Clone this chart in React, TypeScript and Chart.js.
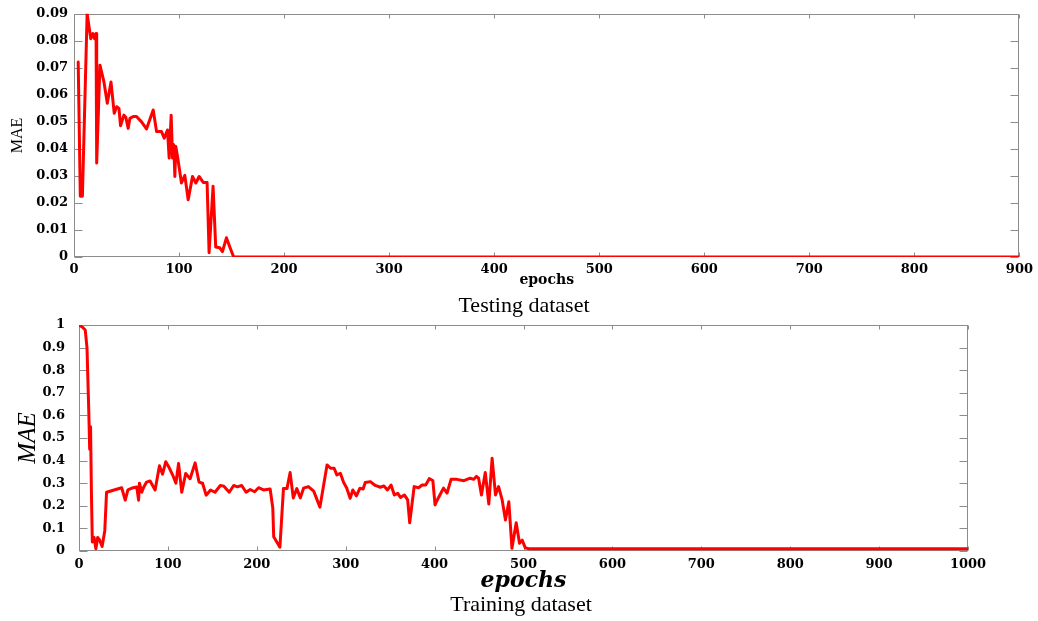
import React, { useEffect, useRef } from 'react';
import { Chart, registerables } from 'chart.js';

Chart.register(...registerables);

// ---- Testing dataset (top panel) ----
const testEpochs = [4, 6, 8, 12.5, 16, 18, 19.5, 21, 21.6, 24.7, 28.5, 31.7, 35.2, 38.3, 40.6, 42.8, 44.3, 47.5, 49.4, 51.6, 53.2, 56.4, 59.5, 64.3, 69, 75.4, 78.6, 83.3, 85.9, 89, 90.6, 92.5, 93.8, 95, 96, 96.9, 98.8, 102.3, 105.5, 108.7, 112.8, 116, 119.1, 123, 126.7, 128.6, 132.4, 134.9, 138.8, 141.3, 145.1, 148.3, 152, 900];
const testMAE = [0.0722, 0.0225, 0.0225, 0.09, 0.0808, 0.0827, 0.0808, 0.0827, 0.0348, 0.071, 0.0648, 0.0569, 0.0648, 0.0532, 0.0556, 0.055, 0.0486, 0.0525, 0.0516, 0.0476, 0.0513, 0.052, 0.052, 0.05, 0.0474, 0.0544, 0.0464, 0.0464, 0.044, 0.047, 0.0366, 0.0525, 0.0366, 0.0415, 0.0298, 0.0409, 0.0366, 0.0274, 0.0302, 0.0212, 0.0298, 0.0274, 0.0298, 0.0276, 0.0276, 0.0016, 0.0262, 0.0037, 0.0034, 0.002, 0.0071, 0.0037, 0, 0];
const testXMax = 900;
const testXStep = 100;
const testYMax = 0.09;
const testYStep = 0.01;

// ---- Training dataset (bottom panel) ----
const trainEpochs = [0, 4, 7, 9, 11, 12, 13, 14, 15, 17, 19, 21, 23, 26, 29, 31, 48, 52, 55, 61, 65, 67, 68, 70.6, 72.5, 76, 80, 85.6, 90.5, 94, 97.6, 101, 105.5, 109, 112, 115.6, 120, 125, 130.6, 135, 139, 143, 148, 153, 159, 163, 169, 174, 178, 183, 188, 192.6, 197.5, 202, 207.6, 215, 218, 219, 226, 230, 234, 237.5, 241, 245, 249, 252.6, 258, 264, 271, 279, 283, 287, 290, 294, 297.7, 301, 305, 308, 312, 316, 319.6, 322, 327.7, 333.3, 339, 343, 347, 351, 354.7, 358.6, 361.6, 366, 369.7, 372, 377, 382, 386, 390, 394, 398, 400.5, 403, 410, 414, 418.5, 425, 433, 440, 444, 447, 449.5, 452.7, 457, 461, 464.7, 468.5, 472, 476, 479.7, 483.5, 487, 491.8, 495.5, 498.5, 502, 506, 1000];
const trainMAE = [1.0, 0.99, 0.978, 0.9, 0.62, 0.45, 0.55, 0.25, 0.04, 0.06, 0.01, 0.06, 0.05, 0.02, 0.09, 0.26, 0.28, 0.225, 0.27, 0.28, 0.283, 0.225, 0.3, 0.26, 0.28, 0.305, 0.31, 0.27, 0.377, 0.34, 0.395, 0.372, 0.335, 0.3, 0.387, 0.26, 0.343, 0.32, 0.39, 0.305, 0.3, 0.247, 0.27, 0.26, 0.29, 0.287, 0.26, 0.29, 0.284, 0.29, 0.26, 0.272, 0.262, 0.28, 0.27, 0.274, 0.19, 0.063, 0.017, 0.277, 0.277, 0.347, 0.235, 0.276, 0.235, 0.278, 0.285, 0.265, 0.194, 0.381, 0.366, 0.366, 0.337, 0.344, 0.303, 0.28, 0.233, 0.27, 0.244, 0.278, 0.274, 0.303, 0.307, 0.29, 0.282, 0.288, 0.27, 0.292, 0.248, 0.255, 0.237, 0.248, 0.226, 0.125, 0.285, 0.28, 0.292, 0.292, 0.32, 0.312, 0.204, 0.226, 0.278, 0.256, 0.317, 0.317, 0.311, 0.322, 0.317, 0.33, 0.322, 0.248, 0.347, 0.208, 0.41, 0.248, 0.285, 0.226, 0.137, 0.218, 0.012, 0.125, 0.034, 0.048, 0.014, 0.01, 0.01];
const trainXMax = 1000;
const trainXStep = 100;
const trainYMax = 1;
const trainYStep = 0.1;

const framePlugin = {
  id: 'frameTicks',
  beforeDatasetsDraw(chart: any) {
    const { ctx, chartArea: a, scales } = chart;
    const xs = scales.x;
    const ys = scales.y;
    ctx.save();
    ctx.strokeStyle = '#8c8c8c';
    ctx.lineWidth = 1;
    const L = Math.round(a.left) + 0.5;
    const R = Math.round(a.right) - 0.5;
    const T = Math.round(a.top) + 0.5;
    const B = Math.round(a.bottom) - 0.5;
    ctx.strokeRect(L, T, R - L, B - T);
    ctx.beginPath();
    xs.ticks.forEach((t: any) => {
      const px = Math.round(xs.getPixelForValue(t.value)) + 0.5;
      ctx.moveTo(px, B);
      ctx.lineTo(px, B - 4);
      ctx.moveTo(px, T);
      ctx.lineTo(px, T + 4);
    });
    ys.ticks.forEach((t: any) => {
      const py = Math.round(ys.getPixelForValue(t.value)) + 0.5;
      ctx.moveTo(L, py);
      ctx.lineTo(L + 8, py);
      ctx.moveTo(R, py);
      ctx.lineTo(R - 8, py);
    });
    ctx.stroke();
    ctx.restore();
  },
};

const tickFont = { family: 'DejaVu Serif', weight: 'bold' as const, size: 13 };

type PlotProps = {
  top: number;
  height: number;
  epochs: number[];
  values: number[];
  xMax: number;
  xStep: number;
  yMax: number;
  yStep: number;
  yDecimals: number;
  padTop: number;
  padRight: number;
  yWidth: number;
  xHeight: number;
  yTickPad: number;
  xTickPad: number;
  xTitleFont: any;
  xTitlePadBottom: number;
  yTitleFont: any;
  yTitlePadTop: number;
};

function MaePlot(p: PlotProps) {
  const ref = useRef<HTMLCanvasElement | null>(null);
  useEffect(() => {
    if (!ref.current) return;
    const chart = new Chart(ref.current, {
      type: 'line',
      data: {
        datasets: [
          {
            data: p.epochs.map((e, i) => ({ x: e, y: p.values[i] })),
            borderColor: '#ff0000',
            borderWidth: 3,
            pointRadius: 0,
            tension: 0,
            fill: false,
            borderJoinStyle: 'round',
            borderCapStyle: 'round',
          },
        ],
      },
      options: {
        responsive: false,
        animation: false,
        devicePixelRatio: 1,
        layout: { padding: { left: 0, right: p.padRight, top: p.padTop, bottom: 0 } },
        plugins: { legend: { display: false }, tooltip: { enabled: false } },
        scales: {
          x: {
            type: 'linear',
            min: 0,
            max: p.xMax,
            grid: { display: false, drawTicks: false },
            border: { display: false },
            ticks: {
              stepSize: p.xStep,
              color: '#000',
              font: tickFont,
              padding: p.xTickPad,
              maxRotation: 0,
              autoSkip: false,
              callback: (v: any) => String(v),
            },
            title: {
              display: true,
              text: 'epochs',
              color: '#000',
              font: p.xTitleFont,
              padding: { top: 0, bottom: p.xTitlePadBottom },
            },
            afterFit: (s: any) => {
              s.height = p.xHeight;
            },
          },
          y: {
            type: 'linear',
            min: 0,
            max: p.yMax,
            grid: { display: false, drawTicks: false },
            border: { display: false },
            ticks: {
              stepSize: p.yStep,
              color: '#000',
              font: tickFont,
              padding: p.yTickPad,
              callback: (v: any) => {
                const n = Number(v);
                if (Math.abs(n) < 1e-9) return '0';
                if (Math.abs(n - 1) < 1e-9) return '1';
                return n.toFixed(p.yDecimals);
              },
            },
            title: {
              display: true,
              text: 'MAE',
              color: '#000',
              font: p.yTitleFont,
              padding: { top: p.yTitlePadTop, bottom: 0 },
            },
            afterFit: (s: any) => {
              s.width = p.yWidth;
            },
          },
        },
      },
      plugins: [framePlugin],
    } as any);
    return () => chart.destroy();
  }, []);
  return (
    <canvas
      ref={ref}
      width={1038}
      height={p.height}
      style={{ position: 'absolute', left: 0, top: p.top, width: 1038, height: p.height }}
    />
  );
}

export default function App() {
  return (
    <div style={{ position: 'fixed', left: 0, top: 0, width: 1038, height: 621, background: '#fff', overflow: 'hidden' }}>
      <MaePlot
        top={0}
        height={295}
        epochs={testEpochs}
        values={testMAE}
        xMax={testXMax}
        xStep={testXStep}
        yMax={testYMax}
        yStep={testYStep}
        yDecimals={2}
        padTop={12}
        padRight={17}
        yWidth={74}
        xHeight={38}
        yTickPad={6}
        xTickPad={5}
        xTitleFont={{ family: 'DejaVu Serif', weight: 'bold', size: 14 }}
        xTitlePadBottom={6}
        yTitleFont={{ family: 'Liberation Serif', size: 16 }}
        yTitlePadTop={8}
      />
      <MaePlot
        top={300}
        height={295}
        epochs={trainEpochs}
        values={trainMAE}
        xMax={trainXMax}
        xStep={trainXStep}
        yMax={trainYMax}
        yStep={trainYStep}
        yDecimals={1}
        padTop={25}
        padRight={70}
        yWidth={79}
        xHeight={44}
        yTickPad={14}
        xTickPad={6}
        xTitleFont={{ family: 'DejaVu Serif', weight: 'bold', style: 'italic', size: 22 }}
        xTitlePadBottom={1}
        yTitleFont={{ family: 'Liberation Serif', style: 'italic', size: 25 }}
        yTitlePadTop={13}
      />
      <div
        style={{ position: 'absolute', left: 0, top: 293, width: 1048, textAlign: 'center', fontFamily: 'Liberation Serif', fontSize: 22, lineHeight: '24px', color: '#000' }}
      >
        Testing dataset
      </div>
      <div
        style={{ position: 'absolute', left: 0, top: 592, width: 1042, textAlign: 'center', fontFamily: 'Liberation Serif', fontSize: 22, lineHeight: '24px', color: '#000' }}
      >
        Training dataset
      </div>
    </div>
  );
}
